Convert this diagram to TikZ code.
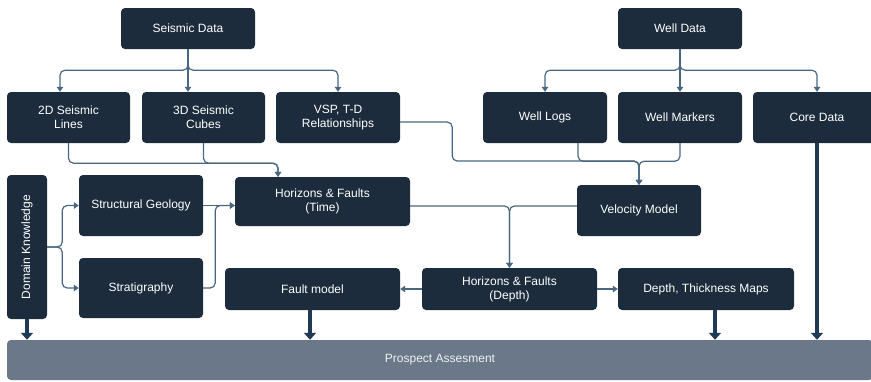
\documentclass[tikz,border=0pt]{standalone}
\usepackage{fontspec}
\setmainfont{Liberation Sans}
\usepackage{graphicx}
\usetikzlibrary{arrows.meta}
\definecolor{boxfill}{HTML}{1C2C3D}
\definecolor{linecol}{HTML}{4A6782}
\definecolor{thickcol}{HTML}{1F3A57}
\definecolor{barfill}{HTML}{6A7889}
\definecolor{bartext}{HTML}{EEF2F5}
\begin{document}
\begin{tikzpicture}[x=1pt,y=-1pt,
  box/.style={fill=boxfill, rounded corners=4pt, text=white, align=center,
    font=\fontsize{12}{14}\selectfont, inner sep=0pt},
  conn/.style={draw=linecol, line width=1.2pt, rounded corners=5pt,
    -{Triangle[length=5pt,width=6.5pt]}},
  feed/.style={draw=thickcol, line width=3.6pt, -{Triangle[length=7pt,width=12pt]}},
]
\useasboundingbox (0,0) rectangle (871,381);
\clip (0,0) rectangle (871,381);

% data sources
\node[box, minimum width=134pt, minimum height=41pt] (sd) at (188,28.5) {Seismic Data};
\node[box, minimum width=124pt, minimum height=41pt] (wd) at (680,28.5) {Well Data};

% second row
\node[box, minimum width=123pt, minimum height=51pt] (l2d) at (68.5,117.5) {2D Seismic\\Lines};
\node[box, minimum width=123pt, minimum height=51pt] (c3d) at (203.5,117.5) {3D Seismic\\Cubes};
\node[box, minimum width=124pt, minimum height=51pt] (vsp) at (338,117.5) {VSP, T-D\\Relationships};
\node[box, minimum width=124pt, minimum height=51pt] (wl) at (545,117.5) {Well Logs};
\node[box, minimum width=124pt, minimum height=51pt] (wm) at (680,117.5) {Well Markers};
\node[box, minimum width=128pt, minimum height=51pt] (cd) at (817,117.5) {Core Data};

% interpretation
\node[box, minimum width=40pt, minimum height=144pt] (dk) at (27,247) {\rotatebox{90}{Domain Knowledge}};
\node[box, minimum width=124pt, minimum height=61pt] (sg) at (141,205.5) {Structural Geology};
\node[box, minimum width=124pt, minimum height=60pt] (st) at (141,288) {Stratigraphy};
\node[box, minimum width=175pt, minimum height=49pt] (ht) at (322.5,201.5) {Horizons \& Faults\\(Time)};
\node[box, minimum width=124pt, minimum height=51pt] (vm) at (639,210.5) {Velocity Model};
\node[box, minimum width=175pt, minimum height=42pt] (fm) at (312.5,289) {Fault model};
\node[box, minimum width=175pt, minimum height=42pt] (hd) at (509.5,289) {Horizons \& Faults\\(Depth)};
\node[box, minimum width=176pt, minimum height=42pt] (dm) at (706,289) {Depth, Thickness Maps};

% assessment bar
\node[fill=barfill, rounded corners=4pt, minimum width=866pt, minimum height=40pt,
  text=bartext, font=\fontsize{12}{14}\selectfont] (pa) at (440,360) {Prospect Assesment};

% seismic branches
\draw[conn] (sd.south) -- ++(0,21) -| ([xshift=-8.5pt]l2d.north);
\draw[conn] (sd.south) -- ([xshift=-15.5pt]c3d.north);
\draw[conn] (sd.south) -- ++(0,21) -| (vsp.north);

% well branches
\draw[conn] (wd.south) -- ++(0,21) -| (wl.north);
\draw[conn] (wd.south) -- (wm.north);
\draw[conn] (wd.south) -- ++(0,21) -| (cd.north);

% seismic to time horizons
\draw[conn] (l2d.south) -- ++(0,20) -| ([xshift=-44.5pt]ht.north);
\draw[conn] (c3d.south) -- ++(0,20) -| ([xshift=-44.5pt]ht.north);

% inputs to velocity model
\draw[conn] ([yshift=-4.5pt]vsp.east) -- ++(52,0) -- ++(0,39) -| (vm.north);
\draw[conn] ([xshift=33pt]wl.south) -- ++(0,18) -| (vm.north);
\draw[conn] (wm.south) -- ++(0,18) -| (vm.north);

% domain knowledge
\draw[conn] (dk.east) -- ++(15,0) |- (sg.west);
\draw[conn] (dk.east) -- ++(15,0) |- (st.west);
\draw[conn] (sg.east) -- (sg.east -| ht.west);
\draw[conn] (st.east) -- ++(12,0) |- (sg.east -| ht.west);

% time to depth
\draw[conn] ([yshift=-4.5pt]ht.east) -| (hd.north);
\draw[conn] ([yshift=4.5pt]vm.west) -| (hd.north);
\draw[conn] (hd.west) -- (fm.east);
\draw[conn] (hd.east) -- (dm.west);

% feeds into the assessment
\draw[feed] (dk.south) -- (dk.south |- pa.north);
\draw[feed] ([xshift=-2.5pt]fm.south) -- ([xshift=-2.5pt]fm.south |- pa.north);
\draw[feed] ([xshift=9pt]dm.south) -- ([xshift=9pt]dm.south |- pa.north);
\draw[feed] (cd.south) -- (cd.south |- pa.north);
\end{tikzpicture}
\end{document}
